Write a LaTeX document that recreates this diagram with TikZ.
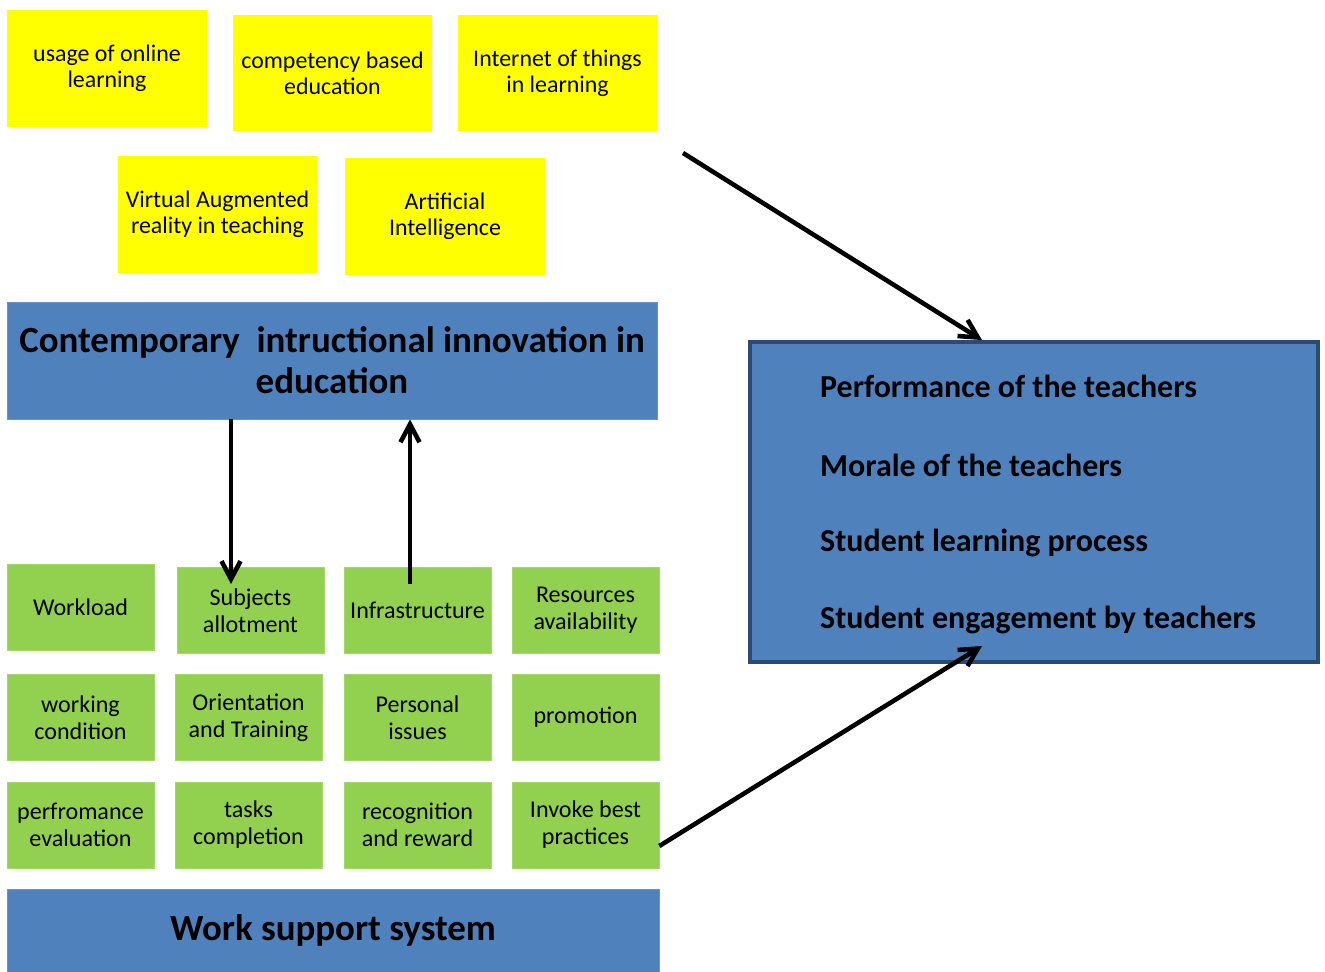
\documentclass[tikz,border=0pt]{standalone}
\usepackage{fontspec}
\setmainfont{Carlito}
\usepackage{xcolor}
\usepackage{tikz}
\usetikzlibrary{arrows.meta}

\definecolor{boxyellow}{HTML}{FFFF00}
\definecolor{boxgreen}{HTML}{92D050}
\definecolor{boxblue}{HTML}{4F81BD}
\definecolor{boxedge}{HTML}{2C4B74}

\tikzset{
    yellowbox/.style={fill=boxyellow, minimum width=4cm, minimum height=2.34cm,
        align=center, font=\fontsize{13.6}{14.8}\selectfont},
    greenbox/.style={fill=boxgreen, draw=boxgreen!85!white, minimum width=2.94cm,
        minimum height=1.72cm, align=center, font=\fontsize{13.7}{15.3}\selectfont},
    bluebar/.style={fill=boxblue, draw=boxblue!85!white, align=center,
        font=\fontsize{21}{23.2}\selectfont\bfseries},
    outcome/.style={anchor=west, font=\fontsize{18.2}{20}\selectfont\bfseries},
    link/.style={line width=2.6pt, -{Straight Barb[length=3.6mm, width=3.8mm]}}
}

\begin{document}
\begin{tikzpicture}[x=0.02cm, y=-0.02cm]
    \useasboundingbox (0, 0) rectangle (1325, 972);

    % innovations
    \node[yellowbox] (online) at (107, 68.5) {usage of online\\learning};
    \node[yellowbox] (competency) at (332.5, 73) {competency based\\education};
    \node[yellowbox] (iot) at (557.5, 73) {Internet of things\\in learning};
    \node[yellowbox] (virtual) at (217.5, 214.5) {Virtual Augmented\\reality in teaching};
    \node[yellowbox] (ai) at (445, 216.5) {Artificial\\Intelligence};

    \node[bluebar, minimum width=13cm, minimum height=2.34cm] (innovation) at (332, 360.5)
        {Contemporary~ intructional innovation in\\education};

    % work support factors
    \node[greenbox] (workload) at (80.5, 607) {Workload};
    \node[greenbox] (subjects) at (250.5, 610.5) {Subjects\\allotment};
    \node[greenbox] (infra) at (417.5, 610.5) {Infrastructure};
    \node[greenbox] (resources) at (585.5, 610.5) {Resources\\availability};

    \node[greenbox] (condition) at (80.5, 717.5) {working\\condition};
    \node[greenbox] (training) at (248.5, 717.5) {Orientation\\and Training};
    \node[greenbox] (personal) at (417.5, 717.5) {Personal\\issues};
    \node[greenbox] (promotion) at (585.5, 717.5) {promotion};

    \node[greenbox] (evaluation) at (80.5, 825) {perfromance\\evaluation};
    \node[greenbox] (tasks) at (248.5, 825) {tasks\\completion};
    \node[greenbox] (reward) at (417.5, 825) {recognition\\and reward};
    \node[greenbox] (practices) at (585.5, 825) {Invoke best\\practices};

    \node[bluebar, minimum width=13.04cm, minimum height=1.66cm] (support) at (333, 930.5)
        {Work support system};

    % outcomes
    \node[fill=boxblue, draw=boxedge, line width=2.2pt, minimum width=11.36cm,
        minimum height=6.4cm] (result) at (1034, 502) {};
    \node[outcome] (performance) at (814, 386) {Performance of the teachers};
    \node[outcome] (morale) at (814, 465) {Morale of the teachers};
    \node[outcome] (learning) at (814, 543) {Student learning process};
    \node[outcome] (engagement) at (814, 620) {Student engagement by teachers};

    % arrows
    \coordinate (start) at (683, 153);
    \draw[link] (start) -- (result.north -| 982, 0);
    \draw[link] (practices.east |- 0, 846) -- (982, 646);
    \draw[link] (innovation.south -| 231, 0) -- (231, 584);
    \draw[link] (infra.north -| 410, 0) ++(0, 17) -- (innovation.south -| 410, 0);
\end{tikzpicture}
\end{document}
